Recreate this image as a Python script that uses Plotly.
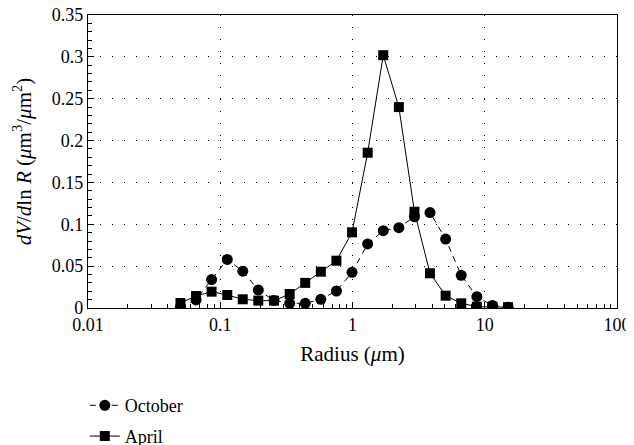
import plotly.graph_objects as go

radius = [0.05, 0.0656, 0.086, 0.113, 0.148, 0.194, 0.255, 0.335, 0.439, 0.576, 0.756,
          0.992, 1.302, 1.708, 2.241, 2.94, 3.857, 5.061, 6.641, 8.713, 11.43, 15.0]
october = [0.001, 0.0096, 0.034, 0.058, 0.044, 0.0215, 0.009, 0.0056, 0.0056, 0.0104, 0.0203,
           0.0426, 0.0765, 0.0924, 0.096, 0.109, 0.114, 0.0824, 0.039, 0.0135, 0.003, 0.001]
april = [0.006, 0.0143, 0.0195, 0.0155, 0.0104, 0.0088, 0.0088, 0.0167, 0.030, 0.0434, 0.0565,
         0.0904, 0.1855, 0.302, 0.240, 0.115, 0.0415, 0.0147, 0.0056, 0.0016, 0.0015, 0.001]

x_ticks = [0.01, 0.1, 1, 10, 100]
x_ticktext = ["0.01", "0.1", "1", "10", "100"]
y_ticks = [0, 0.05, 0.1, 0.15, 0.2, 0.25, 0.3, 0.35]
y_ticktext = ["0", "0.05", "0.1", "0.15", "0.2", "0.25", "0.3", "0.35"]

x_minor = [m * 10 ** e for e in range(-2, 2) for m in range(2, 10)]
y_minor = [i / 100 for i in range(0, 36)]

font = "Liberation Serif"
f18 = dict(family=font, size=18, color="black")
f21 = dict(family=font, size=21, color="black")

fig = go.Figure()
fig.add_trace(go.Scatter(x=radius, y=october, name="October", mode="lines+markers",
                         line=dict(color="black", width=1, dash="6px,5px"),
                         marker=dict(symbol="circle", size=11, color="black"),
                         legend="legend"))
fig.add_trace(go.Scatter(x=radius, y=april, name="April", mode="lines+markers",
                         line=dict(color="black", width=1),
                         marker=dict(symbol="square", size=10, color="black"),
                         legend="legend2"))

legend_common = dict(xanchor="left", yanchor="top", font=f18, itemwidth=30,
                     bgcolor="rgba(0,0,0,0)")

fig.update_layout(
    width=626, height=437,
    margin=dict(l=80, r=17, t=7, b=137, autoexpand=False),
    paper_bgcolor="white", plot_bgcolor="white",
    font=f18,
    showlegend=True,
    legend=dict(x=-0.006, y=-0.27, **legend_common),
    legend2=dict(x=-0.006, y=-0.375, **legend_common),
    xaxis=dict(type="log", range=[-2, 2], showline=True, linecolor="black", linewidth=1.2,
               mirror=True, ticks="inside", ticklen=6, tickcolor="black",
               tickvals=x_ticks, ticktext=x_ticktext, automargin=False, tickfont=f18,
               ticklabeloverflow="allow",
               showgrid=True, gridcolor="black", griddash="1px,11px", gridwidth=1,
               minor=dict(ticks="inside", ticklen=4, tickcolor="black", tickvals=x_minor,
                          showgrid=False),
               title=dict(text="Radius (<i>μ</i>m)", standoff=12, font=f21),
               zeroline=False),
    yaxis=dict(range=[0, 0.35], showline=True, linecolor="black", linewidth=1.2,
               mirror=True, ticks="inside", ticklen=6, tickcolor="black",
               tickvals=y_ticks, ticktext=y_ticktext, automargin=False, tickfont=f18,
               ticklabeloverflow="allow",
               showgrid=True, gridcolor="black", griddash="1px,11px", gridwidth=1,
               minor=dict(ticks="inside", ticklen=4, tickcolor="black", tickvals=y_minor,
                          showgrid=False),
               title=dict(text="<i>dV</i>/<i>d</i>ln <i>R</i> (<i>μ</i>m<sup>3</sup>/<i>μ</i>m<sup>2</sup>)",
                          standoff=14, font=f21),
               zeroline=False),
)

fig.write_html("out.html")
